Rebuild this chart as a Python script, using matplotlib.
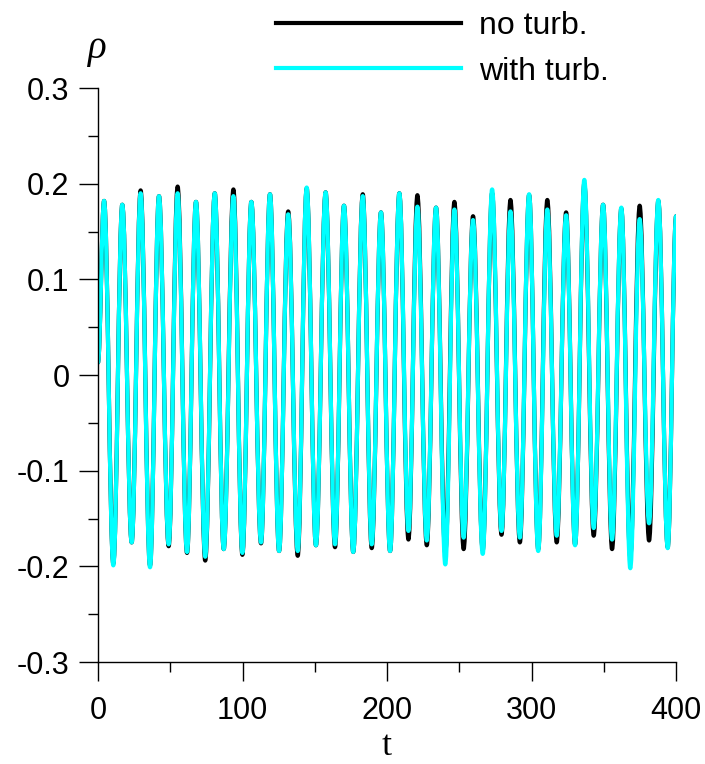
import matplotlib as mpl
mpl.use("Agg")
import matplotlib.pyplot as plt
from matplotlib.path import Path
from matplotlib.patches import PathPatch
from matplotlib.lines import Line2D
from matplotlib.ticker import MultipleLocator, FormatStrFormatter

mpl.rcParams.update({
    "font.family": ["Liberation Sans", "DejaVu Sans"],
    "axes.unicode_minus": False,
})

# ── Data: extrema of rho(t) ──────────────────────────────────────────────────
# times of successive extrema (start, peak, trough, peak, ..., end)
t_ext = [0, 4.2, 10.6, 16.8, 23.3, 29.5, 36.0, 42.2, 48.9, 55.1, 61.6,
         67.8, 74.2, 80.8, 87.0, 93.7, 99.9, 106.1, 112.8, 119.0, 125.3,
         131.6, 138.2, 144.4, 150.8, 157.5, 164.0, 170.2, 176.6, 183.2, 189.4,
         195.8, 202.1, 208.5, 214.8, 221.0, 227.5, 233.9, 240.3, 246.6, 253.0,
         259.5, 266.2, 272.7, 279.2, 285.4, 291.9, 298.3, 304.6, 310.9, 317.4,
         323.9, 330.1, 336.5, 343.0, 349.5, 355.7, 362.1, 368.3, 374.8, 381.3,
         387.7, 394.2, 400]

rho_no_turb = [0.013,
               0.182, -0.197, 0.178, -0.175, 0.193, -0.199, 0.187, -0.179,
               0.197, -0.186, 0.181, -0.194, 0.190, -0.182, 0.194, -0.188,
               0.181, -0.176, 0.189, -0.184, 0.171, -0.189, 0.195, -0.178,
               0.191, -0.180, 0.177, -0.185, 0.189, -0.181, 0.170, -0.184,
               0.190, -0.172, 0.188, -0.178, 0.175, -0.186, 0.181, -0.182,
               0.166, -0.183, 0.190, -0.167, 0.183, -0.175, 0.188, -0.182,
               0.183, -0.175, 0.170, -0.177, 0.200, -0.168, 0.178, -0.182,
               0.174, -0.190, 0.177, -0.173, 0.182, -0.180,
               0.166]

rho_with_turb = [0.013,
                 0.182, -0.199, 0.178, -0.175, 0.190, -0.201, 0.187, -0.177,
                 0.190, -0.185, 0.181, -0.190, 0.190, -0.182, 0.187, -0.186,
                 0.181, -0.175, 0.189, -0.184, 0.168, -0.184, 0.196, -0.178,
                 0.191, -0.177, 0.177, -0.185, 0.187, -0.177, 0.170, -0.184,
                 0.190, -0.163, 0.176, -0.173, 0.175, -0.198, 0.173, -0.170,
                 0.162, -0.187, 0.194, -0.163, 0.171, -0.170, 0.189, -0.184,
                 0.173, -0.168, 0.167, -0.178, 0.204, -0.160, 0.178, -0.172,
                 0.175, -0.202, 0.163, -0.155, 0.183, -0.181,
                 0.166]

series_labels = ["no turb.", "with turb."]
series_colors = ["black", "cyan"]


def smooth_path(ts, ys, k=0.3642):
    """Cubic Bezier path through extrema with flat tangents at each one."""
    verts = [(ts[0], ys[0])]
    codes = [Path.MOVETO]
    for t0, y0, t1, y1 in zip(ts[:-1], ys[:-1], ts[1:], ys[1:]):
        dt = t1 - t0
        verts += [(t0 + k * dt, y0), (t1 - k * dt, y1), (t1, y1)]
        codes += [Path.CURVE4] * 3
    return Path(verts, codes)


fig = plt.figure(figsize=(7.05, 7.64), dpi=100)
ax = fig.add_axes([0.139, 0.1335, 0.82, 0.7513])

for ys, color in zip([rho_no_turb, rho_with_turb], series_colors):
    patch = PathPatch(smooth_path(t_ext, ys), facecolor="none",
                      edgecolor=color, lw=3.0, capstyle="round",
                      joinstyle="round", transform=ax.transData)
    ax.add_patch(patch)

ax.set_xlim(0, 400)
ax.set_ylim(-0.3, 0.3)
ax.spines["top"].set_visible(False)
ax.spines["right"].set_visible(False)
ax.spines["left"].set_linewidth(1.0)
ax.spines["bottom"].set_linewidth(1.0)

ax.xaxis.set_major_locator(MultipleLocator(100))
ax.xaxis.set_minor_locator(MultipleLocator(50))
ax.yaxis.set_major_locator(MultipleLocator(0.1))
ax.yaxis.set_minor_locator(MultipleLocator(0.05))
ax.yaxis.set_major_formatter(FormatStrFormatter("%g"))
ax.tick_params(which="major", direction="out", length=13.5, width=1.0,
               labelsize=22)
ax.tick_params(which="minor", direction="out", length=7, width=1.0)
ax.tick_params(axis="x", which="major", pad=11)
ax.tick_params(axis="y", which="major", pad=7)

ax.set_xlabel("t", fontsize=26, family="Liberation Serif", labelpad=2.5)
fig.text(0.1376, 0.937, "ρ", fontsize=28, family="Liberation Serif",
         style="italic", ha="center", va="center")

handles = [Line2D([], [], color=c, lw=3.0) for c in series_colors]
fig.legend(handles, series_labels, loc="upper left",
           bbox_to_anchor=(0.3915, 0.9856), frameon=False, fontsize=23,
           handlelength=5.8, handletextpad=0.56, labelspacing=0.49,
           borderpad=0.0, borderaxespad=0.0)

fig.savefig("out.png", dpi=100)
